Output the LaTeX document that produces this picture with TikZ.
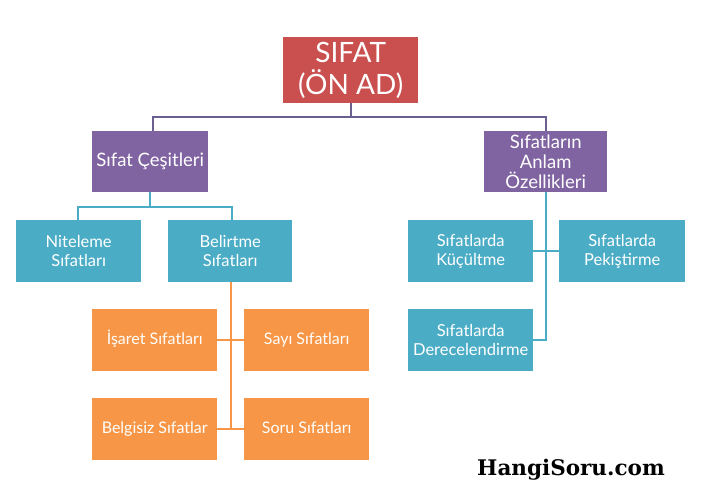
\documentclass[tikz,border=0pt]{standalone}
\usepackage{fontspec}
\setmainfont{Lato}
\newfontfamily\wmfont{DejaVu Serif}
\definecolor{cred}{HTML}{C9504E}
\definecolor{cpur}{HTML}{8064A2}
\definecolor{cblue}{HTML}{4BACC6}
\definecolor{corg}{HTML}{F79646}
\definecolor{cline}{HTML}{6A5F8F}
\tikzset{
  box/.style={anchor=north west, inner sep=0pt, text=white, align=center, font=\fontsize{16.5}{19}\selectfont},
  redbox/.style={box, fill=cred},
  purbox/.style={box, fill=cpur, font=\fontsize{18.5}{20}\selectfont},
  bluebox/.style={box, fill=cblue},
  orgbox/.style={box, fill=corg, font=\fontsize{16}{19}\selectfont, text height=12pt, text depth=3.5pt},
  conn/.style={line width=2pt},
}
\begin{document}
\begin{tikzpicture}[x=1pt,y=-1pt]
\useasboundingbox (0,0) rectangle (701,497);
\fill[white] (0,0) rectangle (701,497);
% nodes
\node[redbox, minimum width=135pt, minimum height=66pt, font=\fontsize{28}{32}\selectfont] (top) at (283,37) {SIFAT\\(ÖN AD)};
\node[purbox, minimum width=116pt, minimum height=61pt] (cesit) at (92,131) {Sıfat Çeşitleri};
\node[purbox, minimum width=123pt, minimum height=61pt] (anlam) at (484,131) {Sıfatların\\Anlam\\Özellikleri};
\node[bluebox, minimum width=125pt, minimum height=62pt] (nit) at (16,220) {Niteleme\\Sıfatları};
\node[bluebox, minimum width=124pt, minimum height=62pt] (bel) at (168,220) {Belirtme\\Sıfatları};
\node[orgbox, minimum width=125pt, minimum height=62pt] (isa) at (92,309) {İşaret Sıfatları};
\node[orgbox, minimum width=125pt, minimum height=62pt] (say) at (244,309) {Sayı Sıfatları};
\node[orgbox, minimum width=125pt, minimum height=62pt] (bgs) at (92,398) {Belgisiz Sıfatlar};
\node[orgbox, minimum width=125pt, minimum height=62pt] (sor) at (244,398) {Soru Sıfatları};
\node[bluebox, minimum width=125pt, minimum height=62pt] (kuc) at (408,220) {Sıfatlarda\\Küçültme};
\node[bluebox, minimum width=126pt, minimum height=62pt] (pek) at (559,220) {Sıfatlarda\\Pekiştirme};
\node[bluebox, minimum width=125pt, minimum height=62pt] (der) at (408,309) {Sıfatlarda\\Derecelendirme};
% coordinates
\coordinate (t1) at (351,117);
\coordinate (t2) at (153,117);
\coordinate (t3) at (546,117);
\coordinate (c1) at (150,207);
\coordinate (c2) at (78,207);
\coordinate (c3) at (232,207);
\coordinate (o1) at (231,340);
\coordinate (o2) at (231,429);
\coordinate (r1) at (546,251);
\coordinate (r2) at (546,340);
% connectors
\draw[conn, cline] (top.south -| t1) -- (t1) -- (t2) -- (t2 |- cesit.north);
\draw[conn, cline] (t1) -- (t3) -- (t3 |- anlam.north);
\draw[conn, cblue] (cesit.south -| c1) -- (c1) -- (c2) -- (c2 |- nit.north);
\draw[conn, cblue] (c1) -- (c3) -- (c3 |- bel.north);
\draw[conn, corg] (bel.south -| o1) -- (o2);
\draw[conn, corg] (isa.east |- o1) -- (say.west |- o1);
\draw[conn, corg] (bgs.east |- o2) -- (sor.west |- o2);
\draw[conn, cblue] (anlam.south -| r1) -- (r2) -- (der.east |- r2);
\draw[conn, cblue] (kuc.east |- r1) -- (pek.west |- r1);
% watermark
\node[anchor=west, inner sep=0pt, font=\wmfont\bfseries\fontsize{21.5}{24}\selectfont] (wm) at (477,470) {HangiSoru.com};
\end{tikzpicture}
\end{document}
